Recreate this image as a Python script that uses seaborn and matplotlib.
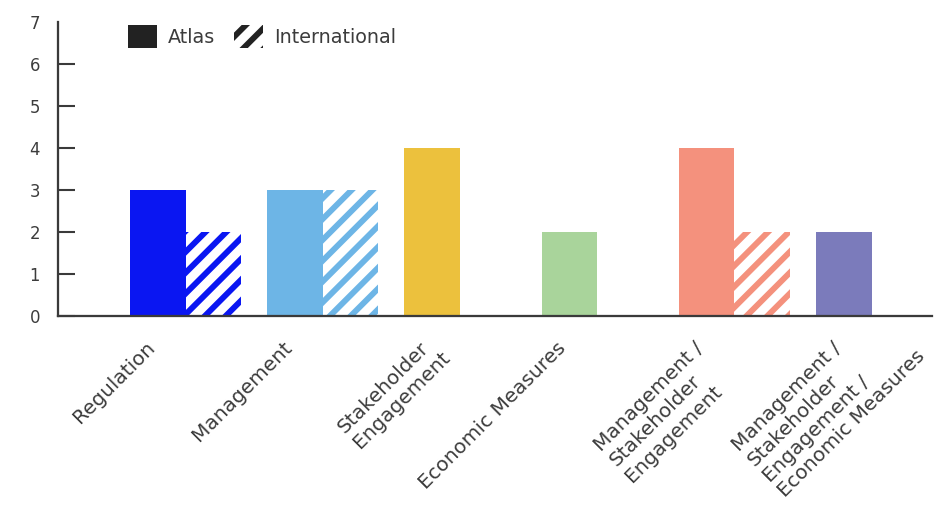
import numpy as np
import pandas as pd
import matplotlib
matplotlib.use("Agg")
import matplotlib.pyplot as plt
import matplotlib.transforms as mtrans
from matplotlib.patches import Patch
import seaborn as sns

# ---- data ----
categories = ["Regulation", "Management", "Stakeholder\nEngagement", "Economic Measures",
              "Management /\nStakeholder\nEngagement",
              "Management /\nStakeholder\nEngagement /\nEconomic Measures"]
atlas = [3, 3, 4, 2, 4, 2]
international = [2, 3, 0, 0, 2, 0]
series_names = ["Atlas", "International"]
colors = ["#0a16f2", "#6db5e6", "#ecc13d", "#a9d49b", "#f4917d", "#7b7bbb"]
y_ticks = [0, 1, 2, 3, 4, 5, 6, 7]

df = pd.DataFrame({
    "category": categories * 2,
    "source": [series_names[0]] * len(categories) + [series_names[1]] * len(categories),
    "value": atlas + international,
})

sns.set_theme(style="white")
plt.rcParams["font.family"] = ["DejaVu Sans"]
plt.rcParams["hatch.linewidth"] = 3.4

DPI = 125
fig = plt.figure(figsize=(938 / DPI, 511 / DPI), dpi=DPI)
ax = fig.add_axes([58 / 938, (511 - 316) / 511, (932 - 58) / 938, (316 - 22) / 511])

sns.barplot(data=df, x="category", y="value", hue="source", order=categories,
            hue_order=series_names, width=0.81, dodge=True, legend=False,
            ax=ax, saturation=1)

for p, c in zip(ax.containers[0], colors):
    p.set_facecolor(c)
    p.set_edgecolor(c)
    p.set_linewidth(0)
for p, c in zip(ax.containers[1], colors):
    p.set_facecolor("white")
    p.set_edgecolor(c)
    p.set_hatch("//")
    p.set_linewidth(0)
    if hasattr(p, "set_hatch_linewidth"):
        p.set_hatch_linewidth(3.4)

ax.set_ylim(0, 7)
ax.set_xlim(-0.93, 5.44)
ax.set_yticks(y_ticks)
ax.set_yticklabels([str(v) for v in y_ticks])
ax.set_xlabel("")
ax.set_ylabel("")
ax.set_xticks([])

spine_c = "#3a3a3a"
for s in ["top", "right"]:
    ax.spines[s].set_visible(False)
for s in ["left", "bottom"]:
    ax.spines[s].set_color(spine_c)
    ax.spines[s].set_linewidth(1.3)

ax.tick_params(axis="y", direction="in", length=9.8, width=1.2, color=spine_c,
               pad=10.4, labelsize=9.5, labelcolor="#3c3c3c", left=True)
ax.yaxis.get_major_ticks()[-1].tick1line.set_visible(False)

# ---- x labels: first line ends under Atlas bar, further lines left-aligned ----
fs = 11.5
lh = 22  # px line spacing
renderer = fig.canvas.get_renderer()
c45 = np.cos(np.pi / 4)
base = mtrans.blended_transform_factory(ax.transData, ax.transAxes)
atlas_x = [p.get_x() + p.get_width() / 2 for p in ax.containers[0]]
for x, lab in zip(atlas_x, categories):
    lines = lab.split("\n")
    t = ax.text(0, 0, lines[0], fontsize=fs)
    w = t.get_window_extent(renderer).width
    t.remove()
    for j, line in enumerate(lines):
        dx = -w * c45 + j * lh * c45 - 6
        dy = -w * c45 - j * lh * c45
        tr = base + mtrans.ScaledTranslation(dx / DPI, dy / DPI, fig.dpi_scale_trans)
        ax.text(x, -0.098, line, transform=tr, rotation=45, rotation_mode="anchor",
                ha="left", va="center", fontsize=fs, color="#3c3c3c", clip_on=False)

# ---- legend ----
handles = [Patch(facecolor="#222222", edgecolor="#222222", linewidth=0, label=series_names[0]),
           Patch(facecolor="white", edgecolor="#222222", hatch="//", linewidth=0, label=series_names[1])]
leg = ax.legend(handles=handles, loc="upper left", bbox_to_anchor=(0.08, 0.99), ncol=2,
                frameon=False, fontsize=11, handlelength=1.5, handleheight=1.5,
                handletextpad=0.6, columnspacing=1.0, borderpad=0, borderaxespad=0)
for txt in leg.get_texts():
    txt.set_color("#3c3c3c")

fig.savefig("out.png", dpi=DPI, facecolor="white")
